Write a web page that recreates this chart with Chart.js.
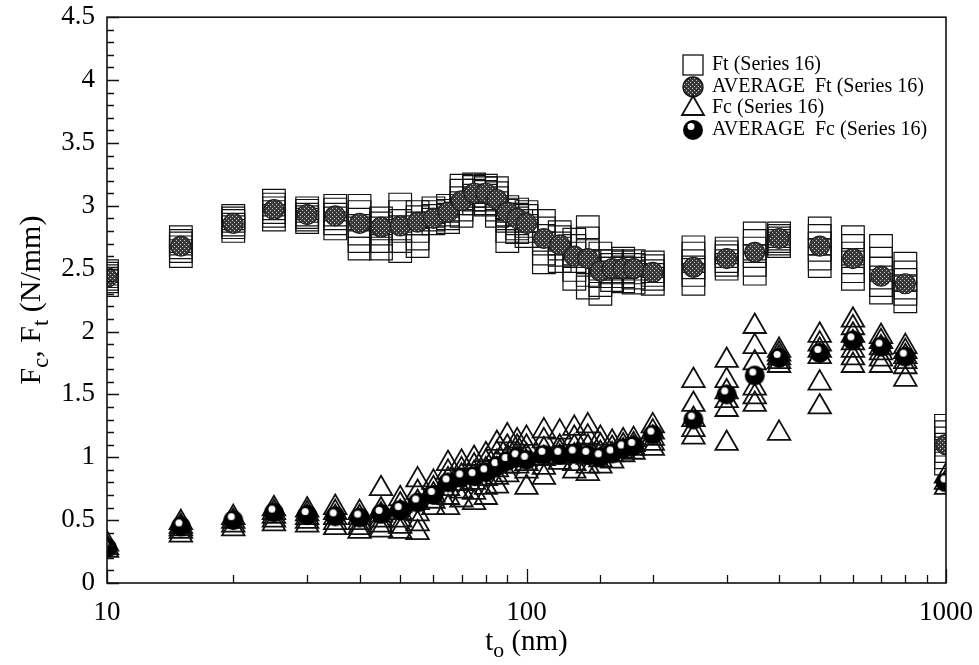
<!DOCTYPE html>
<html>
<head>
<meta charset="utf-8">
<script src="https://cdn.jsdelivr.net/npm/chart.js@4.4.1/dist/chart.umd.min.js"></script>
<style>
  html, body { margin: 0; padding: 0; background: #fff; }
</style>
</head>
<body>
<canvas id="forces" width="979" height="665"></canvas>
<script>
// -------- Data --------
const thickness = [10, 15, 20, 25, 30, 35, 40, 45, 50, 55, 60, 65, 70, 75, 80, 85, 90, 95, 100,
  110, 120, 130, 140, 150, 160, 170, 180, 200, 250, 300, 350, 400, 500, 600, 700, 800, 1000];

const ftRuns = [
  [2.48, 2.46, 2.44, 2.42, 2.40, 2.37],
  [2.75, 2.72, 2.70, 2.67, 2.64, 2.60],
  [2.92, 2.90, 2.88, 2.85, 2.83, 2.80],
  [3.04, 3.01, 2.98, 2.95, 2.92, 2.89],
  [2.98, 2.96, 2.93, 2.91, 2.89, 2.87],
  [3.00, 2.97, 2.93, 2.90, 2.86, 2.82],
  [3.00, 2.95, 2.89, 2.84, 2.78, 2.72, 2.66],
  [2.90, 2.86, 2.82, 2.78, 2.72, 2.66],
  [3.01, 2.95, 2.88, 2.80, 2.72, 2.64],
  [2.95, 2.91, 2.86, 2.80, 2.74, 2.68],
  [2.98, 2.95, 2.92, 2.89, 2.86],
  [3.00, 2.96, 2.93, 2.90, 2.87],
  [3.16, 3.12, 3.06, 3.02, 2.97, 2.92],
  [3.17, 3.15, 3.12, 3.08, 3.05, 3.02],
  [3.16, 3.14, 3.11, 3.08, 3.05, 3.01],
  [3.14, 3.10, 3.06, 3.02, 2.97, 2.92],
  [2.99, 2.96, 2.93, 2.88, 2.80, 2.72],
  [2.97, 2.93, 2.90, 2.86, 2.82, 2.79],
  [2.95, 2.92, 2.88, 2.84, 2.80, 2.76],
  [2.88, 2.82, 2.76, 2.70, 2.62, 2.55],
  [2.79, 2.75, 2.70, 2.66, 2.61, 2.56],
  [2.73, 2.68, 2.62, 2.56, 2.49, 2.42],
  [2.83, 2.74, 2.64, 2.55, 2.45, 2.35],
  [2.62, 2.56, 2.50, 2.44, 2.37, 2.30],
  [2.56, 2.53, 2.50, 2.47, 2.44, 2.41],
  [2.58, 2.55, 2.51, 2.48, 2.44, 2.40],
  [2.56, 2.53, 2.50, 2.47, 2.43, 2.39],
  [2.55, 2.52, 2.48, 2.45, 2.42, 2.38],
  [2.67, 2.62, 2.56, 2.51, 2.45, 2.38],
  [2.66, 2.63, 2.60, 2.56, 2.53, 2.50],
  [2.78, 2.72, 2.66, 2.60, 2.53, 2.46],
  [2.78, 2.76, 2.74, 2.72, 2.70, 2.68],
  [2.82, 2.76, 2.70, 2.65, 2.58, 2.52],
  [2.75, 2.68, 2.62, 2.55, 2.48, 2.42],
  [2.68, 2.58, 2.50, 2.43, 2.37, 2.31],
  [2.54, 2.47, 2.41, 2.35, 2.30, 2.24],
  [1.25, 1.20, 1.15, 1.10, 1.05, 1.00, 0.95]
];

const ftAverage = [2.43, 2.68, 2.86, 2.97, 2.93, 2.92, 2.86, 2.83, 2.84, 2.87, 2.90, 2.95, 3.04, 3.10,
  3.10, 3.05, 2.95, 2.90, 2.86, 2.74, 2.69, 2.60, 2.58, 2.48, 2.50, 2.50, 2.50, 2.47, 2.51, 2.58,
  2.63, 2.74, 2.68, 2.58, 2.44, 2.38, 1.10];

const fcRuns = [
  [0.31, 0.28, 0.26],
  [0.48, 0.45, 0.43, 0.41, 0.38],
  [0.52, 0.49, 0.46, 0.43],
  [0.59, 0.56, 0.53, 0.50, 0.47],
  [0.58, 0.55, 0.52, 0.49, 0.46],
  [0.60, 0.56, 0.52, 0.48, 0.44],
  [0.56, 0.52, 0.48, 0.44, 0.41],
  [0.75, 0.58, 0.54, 0.50, 0.46, 0.42],
  [0.67, 0.62, 0.56, 0.50, 0.45, 0.41],
  [0.82, 0.72, 0.64, 0.55, 0.47, 0.40],
  [0.80, 0.75, 0.70, 0.65, 0.60],
  [0.95, 0.88, 0.82, 0.75, 0.68, 0.60],
  [0.96, 0.90, 0.85, 0.79, 0.73, 0.66],
  [0.99, 0.93, 0.87, 0.80, 0.72, 0.64],
  [1.02, 0.96, 0.90, 0.83, 0.76, 0.68],
  [1.11, 1.03, 0.96, 0.90, 0.84, 0.77],
  [1.17, 1.08, 1.00, 0.93, 0.86],
  [1.13, 1.08, 1.03, 0.98, 0.93],
  [1.15, 1.08, 1.01, 0.95, 0.89, 0.76],
  [1.21, 1.13, 1.06, 0.99, 0.92, 0.84],
  [1.20, 1.08, 1.04, 1.00, 0.96],
  [1.23, 1.15, 1.08, 1.01, 0.95, 0.89],
  [1.25, 1.16, 1.08, 1.00, 0.93, 0.87],
  [1.15, 1.09, 1.03, 0.98, 0.93],
  [1.12, 1.07, 1.02, 0.97],
  [1.13, 1.09, 1.05, 1.02],
  [1.14, 1.10, 1.07, 1.04],
  [1.25, 1.20, 1.15, 1.11, 1.07],
  [1.61, 1.42, 1.30, 1.22, 1.16],
  [1.77, 1.61, 1.52, 1.45, 1.38, 1.11],
  [2.04, 1.88, 1.75, 1.55, 1.48, 1.42],
  [1.85, 1.82, 1.79, 1.76, 1.73, 1.19],
  [1.97, 1.90, 1.85, 1.80, 1.59, 1.40],
  [2.09, 2.03, 1.97, 1.91, 1.85, 1.79, 1.73],
  [1.96, 1.92, 1.87, 1.83, 1.78, 1.73],
  [1.88, 1.84, 1.80, 1.76, 1.72, 1.62],
  [0.85, 0.80, 0.76]
];

const fcAverage = [0.28, 0.45, 0.50, 0.56, 0.54, 0.53, 0.52, 0.55, 0.58, 0.64, 0.70, 0.80, 0.84, 0.85,
  0.88, 0.93, 0.97, 1.00, 0.98, 1.02, 1.02, 1.03, 1.02, 1.00, 1.03, 1.07, 1.09, 1.18, 1.30, 1.50,
  1.65, 1.79, 1.83, 1.93, 1.88, 1.80, 0.80];

const xTickLabels = [10, 100, 1000];
const legendLabels = ['Ft (Series 16)', 'AVERAGE  Ft (Series 16)', 'Fc (Series 16)', 'AVERAGE  Fc (Series 16)'];

const serif = "'Liberation Serif', 'Times New Roman', serif";


// -------- Marker styles --------
// dotted grey fill of the average Ft circles
const tile = document.createElement('canvas');
tile.width = tile.height = 4;
const tg = tile.getContext('2d');
tg.fillStyle = '#3a3a3a';
tg.fillRect(0, 0, 4, 4);
tg.fillStyle = '#c4c4c4';
tg.fillRect(0, 0, 1, 1);
tg.fillRect(2, 2, 1, 1);
const greyDots = tg.createPattern(tile, 'repeat');

// black circle with a white spot for the average Fc
const blackBall = document.createElement('canvas');
blackBall.width = blackBall.height = 22;
const bg = blackBall.getContext('2d');
bg.fillStyle = '#000';
bg.beginPath();
bg.arc(11, 11, 10, 0, Math.PI * 2);
bg.fill();
bg.fillStyle = '#fff';
bg.beginPath();
bg.arc(9, 7.5, 3.5, 0, Math.PI * 2);
bg.fill();


function toPoints(runs) {
  return thickness.flatMap((t, i) => runs[i].map(v => ({ x: t, y: v })));
}

function toAverage(avg) {
  return thickness.map((t, i) => ({ x: t, y: avg[i] }));
}


// -------- Axis decoration, titles and legend --------
function drawParts(ctx, parts, size, x, y) {
  // parts: [text, isSubscript]
  let widths = parts.map(([t, sub]) => {
    ctx.font = (sub ? size * 0.75 : size) + 'px ' + serif;
    return ctx.measureText(t).width;
  });
  let cx = x - widths.reduce((a, b) => a + b, 0) / 2;
  parts.forEach(([t, sub], i) => {
    ctx.font = (sub ? size * 0.75 : size) + 'px ' + serif;
    ctx.fillText(t, cx, y + (sub ? size * 0.25 : 0));
    cx += widths[i];
  });
}

const decorations = {
  id: 'decorations',
  afterDraw(chart) {
    const { ctx, chartArea: a, scales: { x, y } } = chart;
    ctx.save();
    ctx.strokeStyle = '#111';
    ctx.fillStyle = '#000';

    // frame
    ctx.lineWidth = 1.6;
    ctx.strokeRect(a.left, a.top, a.right - a.left, a.bottom - a.top);

    // inward ticks
    ctx.lineWidth = 1.3;
    ctx.beginPath();
    y.ticks.forEach(t => {
      const py = Math.round(y.getPixelForValue(t.value)) + 0.5;
      const major = Math.abs(t.value * 2 - Math.round(t.value * 2)) < 1e-6;
      ctx.moveTo(a.left, py);
      ctx.lineTo(a.left + (major ? 12 : 7), py);
    });
    x.ticks.forEach(t => {
      const px = Math.round(x.getPixelForValue(t.value)) + 0.5;
      const major = xTickLabels.includes(t.value);
      ctx.moveTo(px, a.bottom);
      ctx.lineTo(px, a.bottom - (major ? 14 : 8));
    });
    ctx.stroke();

    // axis titles
    ctx.textBaseline = 'alphabetic';
    drawParts(ctx, [['t', false], ['o', true], [' (nm)', false]], 29, (a.left + a.right) / 2, 650);

    ctx.save();
    ctx.translate(40, 300);
    ctx.rotate(-Math.PI / 2);
    drawParts(ctx, [['F', false], ['c', true], [', ', false], ['F', false], ['t', true], [' (N/mm)', false]], 30, 0, 0);
    ctx.restore();

    // legend
    const mx = 693, tx = 712, rows = [65, 87, 108, 130];
    ctx.font = '20px ' + serif;
    ctx.textBaseline = 'middle';
    legendLabels.forEach((label, i) => ctx.fillText(label, tx, rows[i]));

    ctx.lineWidth = 1.3;
    ctx.strokeRect(mx - 10, rows[0] - 10, 20, 20);

    ctx.fillStyle = greyDots;
    ctx.beginPath();
    ctx.arc(mx, rows[1], 10, 0, Math.PI * 2);
    ctx.fill();
    ctx.stroke();

    ctx.lineWidth = 1.8;
    ctx.beginPath();
    ctx.moveTo(mx, rows[2] - 12);
    ctx.lineTo(mx + 11, rows[2] + 7);
    ctx.lineTo(mx - 11, rows[2] + 7);
    ctx.closePath();
    ctx.stroke();

    ctx.drawImage(blackBall, mx - 11, rows[3] - 11);
    ctx.restore();
  }
};


// -------- Chart --------
new Chart(document.getElementById('forces'), {
  type: 'scatter',
  data: {
    datasets: [
      {
        label: legendLabels[0],
        data: toPoints(ftRuns),
        pointStyle: 'rect',
        pointRadius: 16,
        backgroundColor: 'rgba(0,0,0,0)',
        borderColor: '#111',
        borderWidth: 1.2,
        clip: 0,
        order: 3
      },
      {
        label: legendLabels[1],
        data: toAverage(ftAverage),
        pointStyle: 'circle',
        pointRadius: 10,
        backgroundColor: greyDots,
        borderColor: '#222',
        borderWidth: 1.2,
        clip: 0,
        order: 1
      },
      {
        label: legendLabels[2],
        data: toPoints(fcRuns),
        pointStyle: 'triangle',
        pointRadius: 13,
        backgroundColor: 'rgba(0,0,0,0)',
        borderColor: '#111',
        borderWidth: 1.8,
        clip: 0,
        order: 2
      },
      {
        label: legendLabels[3],
        data: toAverage(fcAverage),
        pointStyle: blackBall,
        pointRadius: 10,
        clip: 0,
        order: 0
      }
    ]
  },
  options: {
    responsive: false,
    animation: false,
    events: [],
    layout: { padding: { left: 0, right: 33, top: 16, bottom: 0 } },
    plugins: { legend: { display: false }, tooltip: { enabled: false } },
    scales: {
      x: {
        type: 'logarithmic',
        min: 10,
        max: 1000,
        grid: { display: false, drawTicks: false },
        border: { display: false },
        ticks: {
          autoSkip: false,
          maxRotation: 0,
          padding: 14,
          color: '#000',
          font: { family: serif, size: 27 },
          callback: v => xTickLabels.includes(v) ? String(v) : ''
        },
        afterFit: s => {
          s.height = 82;
          s.paddingLeft = 0;
          s.paddingRight = 0;
        }
      },
      y: {
        min: 0,
        max: 4.5,
        grid: { display: false, drawTicks: false },
        border: { display: false },
        ticks: {
          stepSize: 0.1,
          autoSkip: false,
          padding: 12,
          color: '#000',
          font: { family: serif, size: 27 },
          callback: v => Math.abs(v * 2 - Math.round(v * 2)) < 1e-6 ? String(Math.round(v * 10) / 10) : ''
        },
        afterFit: s => {
          s.width = 107;
          s.paddingTop = 0;
          s.paddingBottom = 0;
        }
      }
    }
  },
  plugins: [decorations]
});
</script>
</body>
</html>
